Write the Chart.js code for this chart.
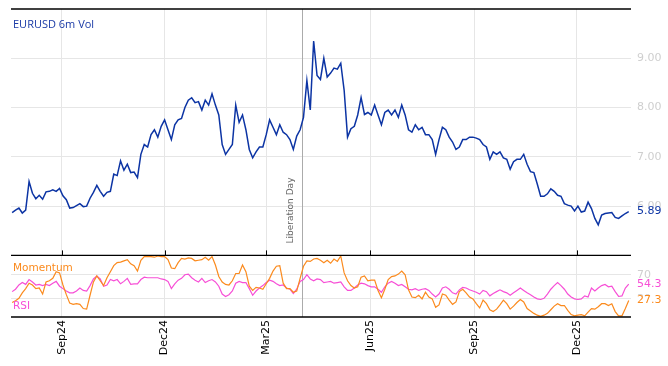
<!DOCTYPE html>
<html>
<head>
<meta charset="utf-8">
<script src="https://cdn.jsdelivr.net/npm/chart.js@4.4.1/dist/chart.umd.min.js"></script>
<style>
html,body{margin:0;padding:0;background:#fff;}
canvas{display:block;}
</style>
</head>
<body>
<canvas id="c" width="668" height="366"></canvas>
<script>
// ---- data ----
const originDate = '2024-07-18';     // left edge of the time axis
const firstDate = '2024-07-19';      // first observation
const stepDays = 3;                  // observation spacing (calendar days)
const endDate = '2026-01-18';        // right edge of the time axis

const tickDates = ['2024-09-01','2024-12-01','2025-03-01','2025-06-01','2025-09-01','2025-12-01'];
const tickLabels = ['Sep24','Dec24','Mar25','Jun25','Sep25','Dec25'];

const eventDate = '2025-04-02';
const eventLabel = 'Liberation Day';

const volTitle = 'EURUSD 6m Vol';
const volTicks = [6, 7, 8, 9];
const oscTicks = [30, 70];

const vol = [
5.87,5.92,5.96,5.86,5.92,6.50,6.26,6.15,6.22,6.14,
6.29,6.30,6.33,6.30,6.36,6.21,6.13,5.96,5.97,6.01,
6.05,5.99,6.00,6.16,6.28,6.42,6.30,6.20,6.28,6.30,
6.65,6.62,6.92,6.73,6.85,6.68,6.69,6.58,7.05,7.25,
7.20,7.45,7.55,7.40,7.62,7.75,7.55,7.35,7.65,7.75,
7.78,8.00,8.15,8.20,8.10,8.12,7.95,8.15,8.05,8.28,
8.05,7.85,7.25,7.05,7.15,7.25,8.05,7.70,7.85,7.55,
7.15,6.98,7.10,7.20,7.20,7.45,7.75,7.60,7.45,7.65,
7.50,7.45,7.35,7.15,7.42,7.55,7.80,8.55,7.95,9.35,
8.65,8.57,9.00,8.62,8.70,8.80,8.78,8.90,8.35,7.40,
7.57,7.62,7.85,8.20,7.86,7.90,7.85,8.05,7.85,7.65,
7.90,7.95,7.85,7.95,7.80,8.05,7.85,7.55,7.50,7.65,
7.55,7.60,7.45,7.45,7.35,7.05,7.35,7.60,7.55,7.40,
7.30,7.15,7.20,7.35,7.35,7.40,7.40,7.38,7.35,7.25,
7.20,6.95,7.10,7.05,7.10,6.98,6.95,6.75,6.90,6.95,
6.95,7.05,6.85,6.70,6.68,6.45,6.20,6.20,6.25,6.35,
6.30,6.22,6.20,6.05,6.02,6.00,5.90,6.00,5.88,5.90,
6.08,5.95,5.75,5.62,5.82,5.85,5.86,5.87,5.77,5.75,
5.80,5.85,5.89
];

const momentum = [
24,27,31,40,47,56,53,47,48,38,
58,60,64,75,73,53,37,23,21,22,
21,14,13,36,58,68,60,52,65,75,
85,90,91,93,95,88,85,76,94,100,
100,100,99,101,100,100,95,81,80,90,
97,96,98,97,93,94,95,99,94,100,
86,67,58,54,53,60,72,72,86,75,
51,44,49,48,46,55,64,76,84,85,
56,47,47,41,43,64,84,93,92,96,
97,94,90,94,89,96,92,101,73,60,
52,48,50,66,68,60,61,61,44,32,
46,62,67,68,71,76,70,45,33,32,
36,30,41,33,30,16,20,38,36,28,
21,25,42,46,40,33,30,22,15,28,
22,12,9,13,20,28,22,13,18,24,
29,25,14,10,6,3,1,3,6,12,
18,22,19,19,11,4,2,3,4,2,
8,14,13,17,22,22,19,22,9,2,
2,14,27.3
];

const rsi = [
42,46,53,57,54,62,58,53,54,52,
54,52,56,59,51,47,43,40,40,43,
48,44,43,52,63,68,63,51,53,62,
60,62,55,59,64,54,55,55,62,66,
65,65,65,65,63,62,59,47,55,61,
64,70,71,65,61,58,64,57,60,62,
58,51,38,34,37,43,56,59,57,57,
47,36,43,48,52,57,61,59,55,52,
53,48,46,39,46,59,62,70,63,60,
63,62,57,58,59,56,57,58,50,44,
44,48,53,56,55,52,50,50,46,41,
50,56,59,56,52,54,50,46,45,47,
44,46,47,44,38,33,38,48,50,46,
40,38,45,49,48,45,43,41,38,44,
42,35,39,42,45,42,40,36,40,44,
48,44,40,37,33,30,29,31,38,46,
52,57,52,46,38,33,30,29,30,35,
33,48,43,48,52,54,50,51,42,34,
35,48,54.3
];

// ---- helpers ----
const DAY = 864e5;
const dayOf = s => (Date.parse(s) - Date.parse(originDate)) / DAY;
const x0 = dayOf(firstDate);
const toXY = arr => arr.map((v, i) => ({x: x0 + i * stepDays, y: v}));
const tickDays = tickDates.map(dayOf);

const BLUE = '#0c34a4';
const ORANGE = '#fb8a1d';
const PINK = '#f74fd6';
const GRID = '#e6e6e6';
const TICKGRAY = '#cfcfcf';

const overlay = {
  id: 'overlay',
  beforeDatasetsDraw(chart) {
    const {ctx, chartArea: ca, scales} = chart;
    const xe = Math.round(scales.x.getPixelForValue(dayOf(eventDate))) + 0.5;
    ctx.save();
    ctx.strokeStyle = '#ababab';
    ctx.lineWidth = 1;
    ctx.beginPath();
    ctx.moveTo(xe, ca.top);
    ctx.lineTo(xe, ca.bottom);
    ctx.stroke();
    ctx.fillStyle = '#666';
    ctx.font = '9px "DejaVu Sans"';
    ctx.translate(xe - 12, scales.y.bottom - 12);
    ctx.rotate(-Math.PI / 2);
    ctx.textAlign = 'left';
    ctx.textBaseline = 'middle';
    ctx.fillText(eventLabel, 0, 0);
    ctx.restore();
  },
  afterDraw(chart) {
    const {ctx, chartArea: ca, scales} = chart;
    const yTop = scales.y, yBot = scales.y2, x = scales.x;
    ctx.save();
    ctx.strokeStyle = '#000';
    ctx.lineWidth = 1.3;
    [yTop.top, yTop.bottom, yBot.bottom].forEach(yy => {
      ctx.beginPath();
      ctx.moveTo(ca.left, yy);
      ctx.lineTo(ca.right, yy);
      ctx.stroke();
    });
    ctx.lineWidth = 1;
    tickDays.forEach(d => {
      const px = Math.round(x.getPixelForValue(d)) + 0.5;
      ctx.beginPath();
      ctx.moveTo(px, yTop.bottom - 5);
      ctx.lineTo(px, yTop.bottom);
      ctx.stroke();
    });
    ctx.textAlign = 'left';
    ctx.textBaseline = 'middle';
    ctx.fillStyle = '#1a3aa6';
    ctx.font = '11px "Open Sans"';
    ctx.fillText(volTitle, ca.left + 2, yTop.top + 16);
    ctx.font = '10.5px "DejaVu Sans"';
    ctx.fillStyle = ORANGE;
    ctx.fillText(chart.data.datasets[1].label, ca.left + 2, yBot.top + 13);
    ctx.fillStyle = PINK;
    ctx.fillText(chart.data.datasets[2].label, ca.left + 2, yBot.top + 51);
    ctx.font = '11px "DejaVu Sans"';
    const lastLabel = (arr, scale, color) => {
      const v = arr[arr.length - 1];
      const py = scale.getPixelForValue(v);
      const txt = v.toFixed(v < 10 ? 2 : 1);
      const w = ctx.measureText(txt).width;
      ctx.fillStyle = '#fff';
      ctx.fillRect(ca.right + 5, py - 4, w + 2, 9);
      ctx.fillStyle = color;
      ctx.fillText(txt, ca.right + 6, py);
    };
    lastLabel(vol, yTop, BLUE);
    lastLabel(rsi, yBot, PINK);
    lastLabel(momentum, yBot, ORANGE);
    ctx.restore();
  }
};

const noPadV = s => { s.width = 37; s.paddingTop = 0; s.paddingBottom = 0; };

new Chart(document.getElementById('c'), {
  type: 'line',
  data: {
    datasets: [
      {label: volTitle, data: toXY(vol), yAxisID: 'y', borderColor: BLUE, borderWidth: 1.5, pointRadius: 0, tension: 0},
      {label: 'Momentum', data: toXY(momentum), yAxisID: 'y2', borderColor: ORANGE, borderWidth: 1.2, pointRadius: 0, tension: 0},
      {label: 'RSI', data: toXY(rsi), yAxisID: 'y2', borderColor: PINK, borderWidth: 1.2, pointRadius: 0, tension: 0}
    ]
  },
  options: {
    responsive: false,
    animation: false,
    devicePixelRatio: 1,
    layout: {padding: {left: 11, top: 9, right: 0, bottom: 0}},
    plugins: {legend: {display: false}, tooltip: {enabled: false}},
    scales: {
      x: {
        type: 'linear',
        min: 0,
        max: dayOf(endDate),
        afterBuildTicks: s => { s.ticks = tickDays.map(v => ({value: v})); },
        afterFit: s => { s.height = 49; s.paddingLeft = 0; s.paddingRight = 0; },
        grid: {color: GRID, drawTicks: false},
        border: {display: false},
        ticks: {
          autoSkip: false,
          minRotation: 90,
          maxRotation: 90,
          padding: 3,
          color: '#000',
          font: {family: 'DejaVu Sans', size: 11},
          callback: (v) => tickLabels[tickDays.indexOf(v)]
        }
      },
      y: {
        type: 'linear',
        position: 'right',
        stack: 'panels',
        stackWeight: 4,
        min: 5,
        max: 10,
        afterBuildTicks: s => { s.ticks = volTicks.map(v => ({value: v})); },
        afterFit: noPadV,
        grid: {color: GRID, drawTicks: false},
        border: {display: false},
        ticks: {padding: 6, color: TICKGRAY, font: {family: 'DejaVu Sans', size: 11}, callback: v => v.toFixed(2)}
      },
      y2: {
        type: 'linear',
        position: 'right',
        stack: 'panels',
        stackWeight: 1,
        min: 0,
        max: 102,
        afterBuildTicks: s => { s.ticks = oscTicks.map(v => ({value: v})); },
        afterFit: noPadV,
        grid: {color: GRID, drawTicks: false},
        border: {display: false},
        ticks: {padding: 6, color: TICKGRAY, font: {family: 'DejaVu Sans', size: 11}}
      }
    }
  },
  plugins: [overlay]
});
</script>
</body>
</html>
